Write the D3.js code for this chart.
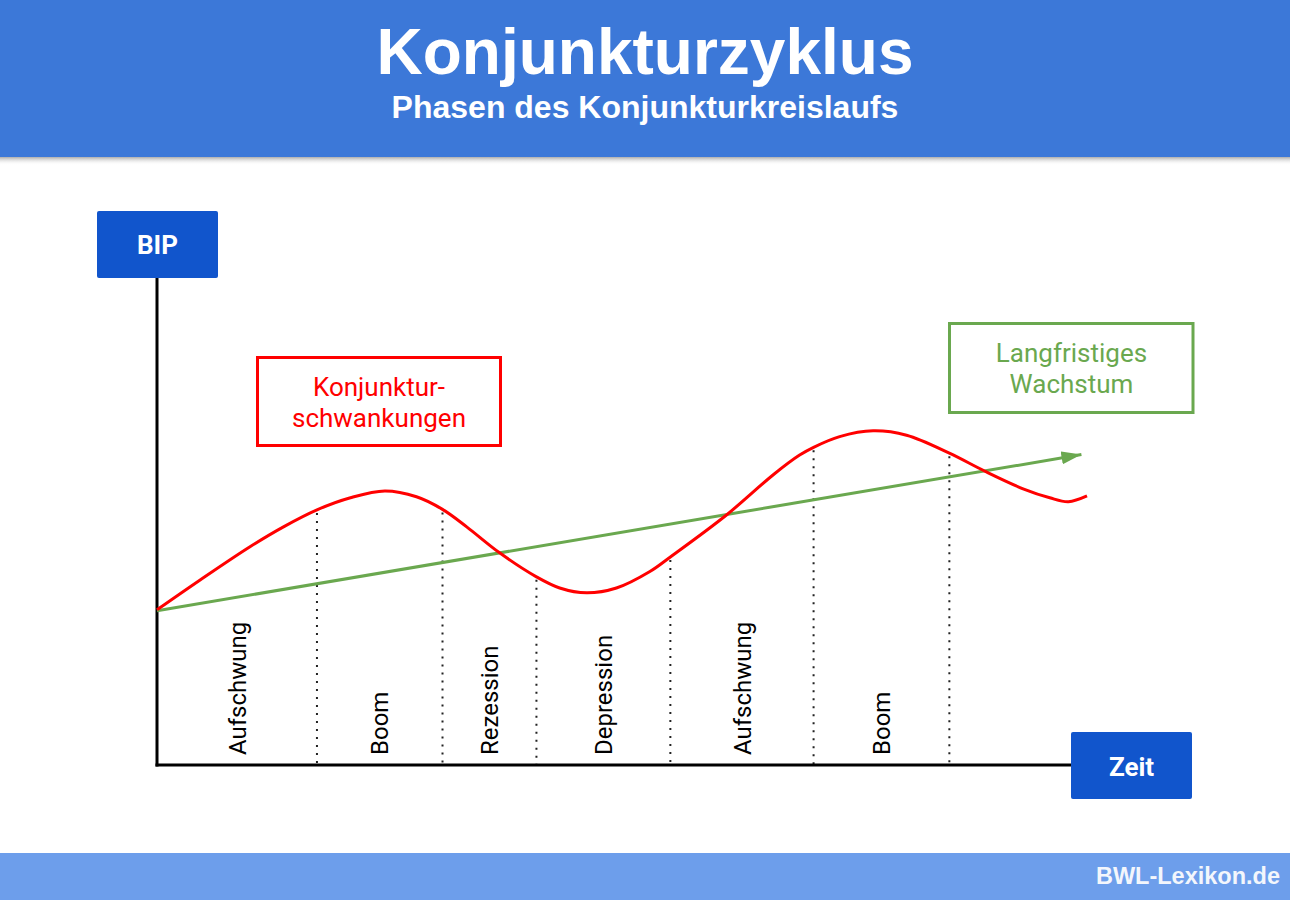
<!DOCTYPE html>
<html>
<head>
<meta charset="utf-8">
<script src="https://cdn.jsdelivr.net/npm/d3@7"></script>
<style>
  html, body { margin: 0; padding: 0; background: #ffffff; }
  svg { display: block; }
</style>
</head>
<body>
<div id="chart"></div>
<script>
// ---------- data ----------
const curveT = [0, 4.6, 10.0, 13.6, 17.2, 20.8, 24.5, 27.9, 30.7, 33.3, 36.8, 40.8, 43.3, 46.2, 49.4, 53.0, 55.2, 61.2, 66.3, 69.1, 70.6, 73.4, 77.0, 80.6, 85.2, 89.0, 93.2, 96.0, 98.0, 100];
const curveV = [32.0, 38.1, 45.0, 49.1, 52.6, 55.1, 56.5, 55.3, 52.7, 49.1, 43.8, 38.8, 36.5, 35.5, 36.5, 39.9, 42.9, 51.5, 59.9, 63.9, 65.5, 67.7, 68.9, 68.0, 64.3, 60.6, 56.9, 55.1, 54.3, 55.5];
const trendT = [0, 99.4];
const trendV = [31.8, 64.0];
const phaseBounds = [0, 17.2, 30.7, 40.8, 55.2, 70.6, 85.2];
const phaseLabels = ["Aufschwung", "Boom", "Rezession", "Depression", "Aufschwung", "Boom"];
const xAxisEnd = 98.3;
const titleText = "Konjunkturzyklus";
const subtitleText = "Phasen des Konjunkturkreislaufs";
const yLabel = "BIP";
const xLabel = "Zeit";
const redLabel = ["Konjunktur-", "schwankungen"];
const greenLabel = ["Langfristiges", "Wachstum"];
const footerText = "BWL-Lexikon.de";

// ---------- setup ----------
const W = 1290, H = 900;
const svg = d3.select("#chart").append("svg").attr("width", W).attr("height", H);
const defs = svg.append("defs");

const x = d3.scaleLinear().domain([0, 100]).range([157, 1087]);
const y = d3.scaleLinear().domain([0, 100]).range([765, 280]);

const RED = "#ff0000", GREEN = "#6aa84f", BLUE = "#1155cc";

// header
const grad = defs.append("linearGradient").attr("id", "shadow").attr("x1", 0).attr("x2", 0).attr("y1", 0).attr("y2", 1);
grad.append("stop").attr("offset", "0%").attr("stop-color", "#999").attr("stop-opacity", 0.8);
grad.append("stop").attr("offset", "100%").attr("stop-color", "#fff").attr("stop-opacity", 0);
svg.append("rect").attr("x", 0).attr("y", 157).attr("width", W).attr("height", 8).attr("fill", "url(#shadow)");
svg.append("rect").attr("x", 0).attr("y", 0).attr("width", W).attr("height", 157).attr("fill", "#3c78d8");
svg.append("text").attr("x", 645).attr("y", 74).attr("text-anchor", "middle")
  .attr("font-family", "Liberation Sans, Arial, sans-serif").attr("font-weight", "bold")
  .attr("font-size", 64).attr("fill", "#fff").text(titleText);
svg.append("text").attr("x", 645).attr("y", 118).attr("text-anchor", "middle")
  .attr("font-family", "Liberation Sans, Arial, sans-serif").attr("font-weight", "bold")
  .attr("font-size", 32).attr("fill", "#fff").text(subtitleText);

// footer
svg.append("rect").attr("x", 0).attr("y", 853).attr("width", W).attr("height", 47).attr("fill", "#6d9eeb");
svg.append("text").attr("x", 1280).attr("y", 884).attr("text-anchor", "end")
  .attr("font-family", "Liberation Sans, Arial, sans-serif").attr("font-weight", "bold")
  .attr("font-size", 23.5).attr("fill", "#f3f6fc").text(footerText);

// ---------- dividers ----------
const curveAt = t => curveV[curveT.indexOf(t)];
svg.append("g").selectAll("line").data(phaseBounds.slice(1)).join("line")
  .attr("x1", d => x(d)).attr("x2", d => x(d))
  .attr("y1", d => y(curveAt(d)) + 3).attr("y2", y(0))
  .attr("stroke", "#222").attr("stroke-width", 2).attr("stroke-dasharray", "2,6");

// phase labels
const mids = phaseLabels.map((l, i) => ({label: l, t: (phaseBounds[i] + phaseBounds[i + 1]) / 2}));
svg.append("g").selectAll("text").data(mids).join("text")
  .attr("transform", d => `translate(${x(d.t)},755) rotate(-90)`)
  .attr("dy", "0.355em")
  .attr("font-family", "Roboto, sans-serif").attr("font-size", 24).attr("fill", "#000")
  .text(d => d.label);

// ---------- axes ----------
svg.append("line").attr("x1", x(0)).attr("x2", x(0)).attr("y1", 278).attr("y2", y(0) + 1.5)
  .attr("stroke", "#000").attr("stroke-width", 3);
svg.append("line").attr("x1", x(0) - 1.5).attr("x2", x(xAxisEnd)).attr("y1", y(0)).attr("y2", y(0))
  .attr("stroke", "#000").attr("stroke-width", 3);

// ---------- trend line with arrow ----------
defs.append("marker").attr("id", "arrow").attr("markerUnits", "userSpaceOnUse")
  .attr("viewBox", "0 -7 20 14").attr("refX", 20).attr("refY", 0)
  .attr("markerWidth", 20).attr("markerHeight", 14).attr("orient", "auto")
  .append("path").attr("d", "M0,-6.5L20,0L0,6.5Z").attr("fill", GREEN);
const trendData = trendT.map((t, i) => [t, trendV[i]]);
svg.append("path").datum(trendData)
  .attr("d", d3.line().x(d => x(d[0])).y(d => y(d[1])))
  .attr("stroke", GREEN).attr("stroke-width", 3).attr("fill", "none")
  .attr("marker-end", "url(#arrow)");

// ---------- business cycle curve ----------
const curveData = curveT.map((t, i) => [t, curveV[i]]);
svg.append("path").datum(curveData)
  .attr("d", d3.line().x(d => x(d[0])).y(d => y(d[1])).curve(d3.curveCatmullRom.alpha(0.5)))
  .attr("stroke", RED).attr("stroke-width", 3).attr("fill", "none");

// ---------- label boxes ----------
function box(x0, y0, w, h, fill) {
  svg.append("rect").attr("x", x0).attr("y", y0).attr("width", w).attr("height", h).attr("rx", 2).attr("fill", fill);
}
box(97, 211, 121, 67, BLUE);
svg.append("text").attr("x", 157.5).attr("y", 254).attr("text-anchor", "middle")
  .attr("font-family", "Roboto, sans-serif").attr("font-weight", "bold").attr("font-size", 26)
  .attr("fill", "#fff").text(yLabel);
box(1071, 732, 121, 67, BLUE);
svg.append("text").attr("x", 1131.5).attr("y", 776).attr("text-anchor", "middle")
  .attr("font-family", "Roboto, sans-serif").attr("font-weight", "bold").attr("font-size", 26)
  .attr("fill", "#fff").text(xLabel);

// red annotation
svg.append("rect").attr("x", 257.5).attr("y", 357.5).attr("width", 243).attr("height", 88)
  .attr("fill", "#fff").attr("stroke", RED).attr("stroke-width", 3);
svg.append("g").selectAll("text").data(redLabel).join("text")
  .attr("x", 379).attr("y", (d, i) => 395.5 + i * 31).attr("text-anchor", "middle")
  .attr("font-family", "Roboto, sans-serif").attr("font-size", 26).attr("fill", RED).text(d => d);

// green annotation
svg.append("rect").attr("x", 949.5).attr("y", 323.5).attr("width", 243.5).attr("height", 89)
  .attr("fill", "#fff").attr("stroke", GREEN).attr("stroke-width", 3);
svg.append("g").selectAll("text").data(greenLabel).join("text")
  .attr("x", 1071.5).attr("y", (d, i) => 361.5 + i * 31.5).attr("text-anchor", "middle")
  .attr("font-family", "Roboto, sans-serif").attr("font-size", 26).attr("fill", GREEN).text(d => d);
</script>
</body>
</html>
